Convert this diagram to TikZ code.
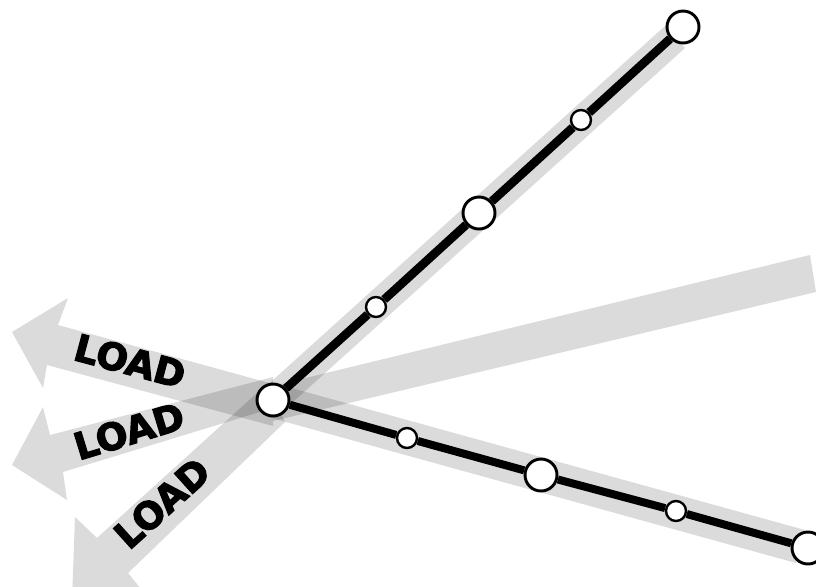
\documentclass[tikz,border=0pt]{standalone}
\usepackage{fontspec,xcolor}
\newfontfamily\lastfont[FakeBold=3]{DejaVu Sans Bold}
\definecolor{lastgrau}{HTML}{000000}
\newcommand{\lastlab}{\fontsize{28}{30}\lastfont}
\tikzset{
  bigjoint/.style={circle,draw=black,fill=white,line width=2.2,minimum size=24,inner sep=0},
  smalljoint/.style={circle,draw=black,fill=white,line width=1.8,minimum size=15,inner sep=0},
  member/.style={black,line width=6.5},
  shade/.style={fill=lastgrau,fill opacity=0.14},
  loadlab/.style={inner sep=0,text=black}
}
\begin{document}
\begin{tikzpicture}[x=0.75pt,y=-0.75pt]
\useasboundingbox (0,0) rectangle (816,586);
\clip (0,0) rectangle (816,586);
\fill[shade] (263,389) -- (665,26) -- (685,48) -- (283,411) -- cycle;
\fill[shade] (277,384) -- (805,530) -- (796,563) -- (268,417) -- cycle;
\fill[shade] (273,386) -- (810,255) -- (816,292) -- (273,421) -- cycle;
\fill[shade] (273,384) -- (58,325) -- (68,298) -- (12,332) -- (43,388) -- (47,365) -- (273,426) -- cycle;
\fill[shade] (273,377) -- (50,435) -- (43,407) -- (12,465) -- (67,500) -- (63,472) -- (273,408) -- cycle;
\fill[shade] (268,383) -- (97,538) -- (75,517) -- (72,600) -- (150,600) -- (128,573) -- (285,422) -- cycle;
\node[bigjoint] (hub) at (273,400) {};
\node[smalljoint] (upa) at (376,307) {};
\node[bigjoint] (upb) at (479,213) {};
\node[smalljoint] (upc) at (581,120) {};
\node[bigjoint] (upd) at (683,27) {};
\node[smalljoint] (lowa) at (407,438) {};
\node[bigjoint] (lowb) at (541,475) {};
\node[smalljoint] (lowc) at (676,511) {};
\node[bigjoint] (lowd) at (808,548) {};
\draw[member] (hub) -- (upa);
\draw[member] (upa) -- (upb);
\draw[member] (upb) -- (upc);
\draw[member] (upc) -- (upd);
\draw[member,line width=6] (hub) -- (lowa);
\draw[member,line width=6] (lowa) -- (lowb);
\draw[member,line width=6] (lowb) -- (lowc);
\draw[member,line width=6] (lowc) -- (lowd);
\node[loadlab,rotate=-15] (loada) at (130,361) {\lastlab LOAD};
\node[loadlab,rotate=17] (loadb) at (129,431) {\lastlab LOAD};
\node[loadlab,rotate=42] (loadc) at (162,503) {\lastlab LOAD};
\end{tikzpicture}
\end{document}
